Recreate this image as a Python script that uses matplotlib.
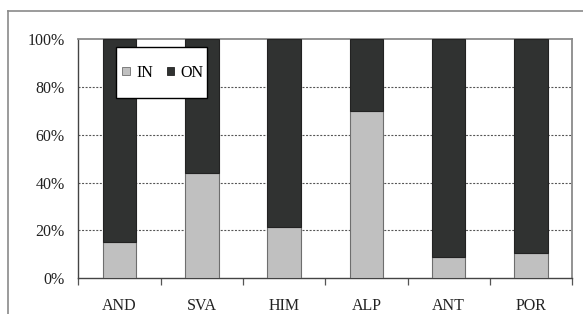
import matplotlib
matplotlib.use("Agg")
import matplotlib.pyplot as plt
from matplotlib.lines import Line2D
from matplotlib.patches import Patch, Rectangle
import numpy as np

categories = ["AND", "SVA", "HIM", "ALP", "ANT", "POR"]
in_values = [15.3, 44.1, 21.6, 70.0, 8.8, 10.6]
on_values = [100 - v for v in in_values]
series_names = ["IN", "ON"]
y_ticks = [0, 20, 40, 60, 80, 100]
y_labels = ["0%", "20%", "40%", "60%", "80%", "100%"]

plt.rcParams['font.family'] = ['Liberation Serif', 'DejaVu Serif']

fig = plt.figure(figsize=(5.83, 3.14), dpi=100)
ax = fig.add_axes([78.5/583, 1 - 278.3/314, (572 - 78.5)/583, (278.3 - 39)/314])

x = np.arange(len(categories))
w = 0.405
ax.bar(x, in_values, width=w, color="#c0c0c0", edgecolor="#6e6e6e", linewidth=0.8, zorder=3, label=series_names[0])
ax.bar(x, on_values, width=w, bottom=in_values, color="#303231", edgecolor="#222222", linewidth=0.8, zorder=3, label=series_names[1])

ax.set_xlim(-0.5, len(categories) - 0.5)
ax.set_ylim(0, 100)
ax.set_yticks(y_ticks)
ax.set_yticklabels(y_labels, fontsize=11.5, color="#222222")
ax.set_xticks(x)
ax.set_xticklabels(categories, fontsize=11.5, color="#222222")
ax.set_xticks(np.arange(len(categories) + 1) - 0.5, minor=True)
ax.tick_params(axis='x', which='major', length=0, pad=14)
ax.tick_params(axis='x', which='minor', length=5, direction='out', color="#555555", width=0.9)
ax.tick_params(axis='y', length=0, pad=10)

for yv in y_ticks[1:-1]:
    ax.axhline(yv, color="#555555", linestyle=(0, (1.8, 1.4)), linewidth=0.8, zorder=1)

for s in ["left", "bottom"]:
    ax.spines[s].set_color("#444444")
    ax.spines[s].set_linewidth(1.0)
for s in ["top", "right"]:
    ax.spines[s].set_color("#8a8a8a")
    ax.spines[s].set_linewidth(1.3)

# legend box
bx0, bx1, by0, by1 = 115.7, 207.3, 47.3, 98.0
fig.add_artist(Rectangle((bx0/583, 1 - by1/314), (bx1 - bx0)/583, (by1 - by0)/314,
                         transform=fig.transFigure, facecolor="white", edgecolor="black",
                         linewidth=1.0, zorder=5))
handles = [Patch(facecolor="#c0c0c0", edgecolor="#6e6e6e", linewidth=0.6),
           Patch(facecolor="#303231", edgecolor="#222222", linewidth=0.6)]
leg = fig.legend(handles, series_names, ncol=2, loc="center",
                 bbox_to_anchor=((bx0 + bx1) / 2 / 583 + 1.5/583, 1 - (by0 + by1) / 2 / 314),
                 frameon=False, fontsize=11.5,
                 handlelength=0.48, handleheight=0.48, handletextpad=0.4,
                 columnspacing=0.85, borderpad=0.2, borderaxespad=0)
leg.set_zorder(6)

# outer chart-area border (top and left visible)
fig.add_artist(Line2D([8/583, 1], [1 - 10.7/314, 1 - 10.7/314], transform=fig.transFigure, color="#8a8a8a", linewidth=1.2))
fig.add_artist(Line2D([8/583, 8/583], [0, 1 - 10.7/314], transform=fig.transFigure, color="#8a8a8a", linewidth=1.2))

fig.savefig("out.png", dpi=100)
